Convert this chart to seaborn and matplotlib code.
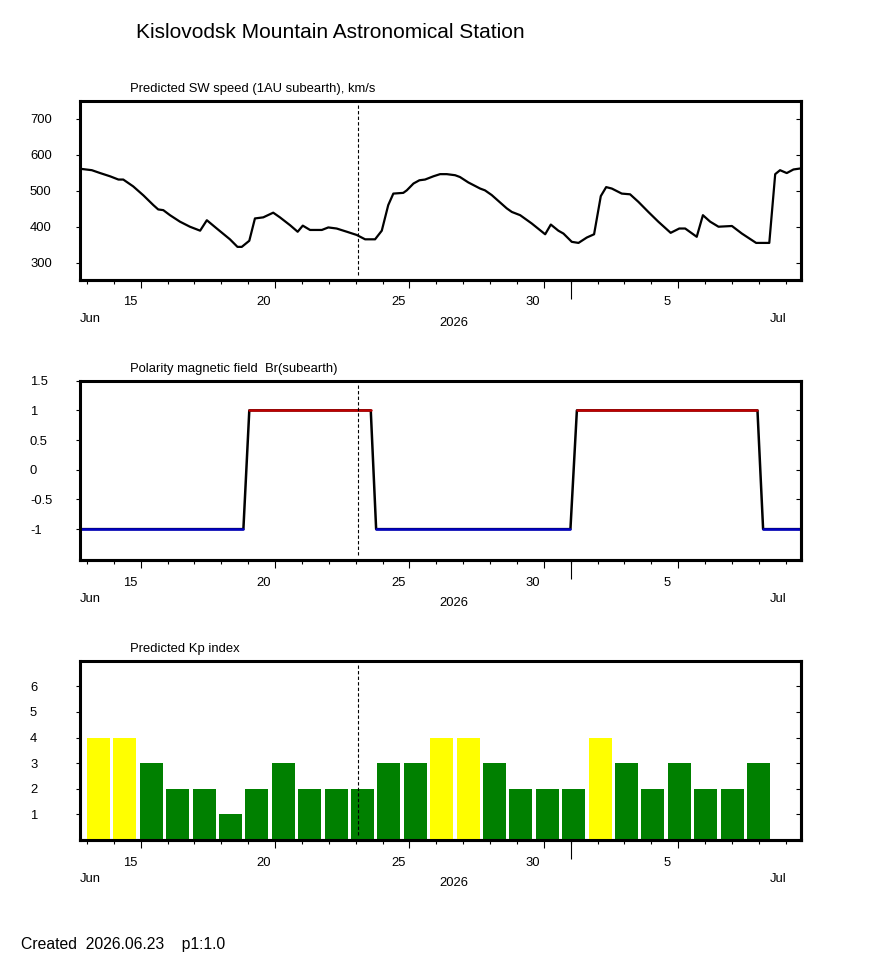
import seaborn as sns
import matplotlib.pyplot as plt
import matplotlib.transforms as mtransforms
import numpy as np

sns.set_theme(style="ticks", rc={"text.color": "black", "axes.labelcolor": "black",
                                 "xtick.color": "black", "ytick.color": "black",
                                 "axes.edgecolor": "black"})
plt.rcParams["font.family"] = ["Liberation Sans", "DejaVu Sans"]
plt.rcParams["axes.unicode_minus"] = False

# days are counted from 1 June 2026 00:00 = day 1 (so 1 July = day 31)
x_range = (12.74, 39.57)
now_day = 23.09

# solar wind speed
sw_days = [12.74, 13.18, 13.49, 13.86, 14.17, 14.35, 14.72, 15.10, 15.47, 15.65,
           15.84, 16.09, 16.46, 16.83, 17.21, 17.46, 17.83, 18.32, 18.60, 18.76,
           19.04, 19.25, 19.56, 19.93, 20.18, 20.56, 20.84, 21.03, 21.30, 21.74,
           21.98, 22.29, 22.67, 23.04, 23.35, 23.72, 23.97, 24.21, 24.40, 24.77,
           24.90, 25.15, 25.37, 25.58, 25.89, 26.14, 26.39, 26.70, 26.88, 27.19,
           27.63, 27.81, 28.06, 28.62, 28.81, 29.12, 29.55, 30.05, 30.26, 30.54,
           30.73, 31.04, 31.29, 31.60, 31.87, 32.12, 32.32, 32.53, 32.90, 33.21,
           33.52, 33.89, 34.26, 34.72, 35.04, 35.26, 35.69, 35.92, 36.19, 36.50,
           37.00, 37.37, 37.90, 38.39, 38.61, 38.79, 39.04, 39.29, 39.57]
sw_speed = [561, 557, 549, 540, 531, 531, 512, 487, 460, 448,
            446, 432, 414, 400, 389, 418, 395, 365, 344, 344,
            361, 423, 426, 439, 426, 404, 386, 403, 391, 391,
            398, 395, 386, 377, 365, 365, 389, 460, 492, 494,
            501, 520, 529, 531, 540, 546, 546, 543, 538, 523,
            506, 501, 488, 451, 441, 432, 409, 379, 406, 389,
            381, 358, 355, 370, 379, 485, 510, 506, 492, 490,
            469, 441, 414, 383, 395, 395, 372, 432, 414, 400,
            402, 381, 355, 355, 546, 557, 549, 559, 562]

# polarity of Br
pol_days = [12.74, 18.82, 19.04, 23.56, 23.76, 30.99, 31.23, 37.95, 38.16, 39.57]
pol_vals = [-1, -1, 1, 1, -1, -1, 1, 1, -1, -1]

# predicted Kp, one bar per (slightly shorter than a) day
kp_first = 13.0
kp_step = 0.9824
kp_values = [4, 4, 3, 2, 2, 1, 2, 3, 2, 2, 2, 3, 3, 4, 4, 3, 2, 2, 2, 4, 3, 2, 3, 2, 2, 3]

major_days = [15, 20, 25, 30, 35]
major_labels = ["15", "20", "25", "30", "5"]
month_day = 31

fig = plt.figure(figsize=(8.7, 9.65), dpi=100)
W, H = 870, 965
FS = 9.4


def make_axes(top_px):
    return fig.add_axes([80 / W, 1 - (top_px + 179.3) / H, 721 / W, 179.3 / H])


def style_axes(ax, title, yticks, ylim):
    ax.set_xlim(*x_range)
    ax.set_ylim(*ylim)
    for sp in ax.spines.values():
        sp.set_linewidth(2.2)
        sp.set_color("black")
    ax.set_facecolor("white")
    ax.set_xticks(major_days)
    ax.set_xticks(np.arange(13, 40), minor=True)
    ax.tick_params(axis="x", which="major", direction="out", length=6, width=0.8,
                   color="black", labelbottom=False)
    ax.tick_params(axis="x", which="minor", direction="out", length=3, width=0.8,
                   color="black")
    ax.set_yticks(yticks)
    ax.set_yticklabels(["%g" % t for t in yticks])
    ax.tick_params(axis="y", direction="out", length=3, width=0.8, color="black",
                   pad=33, labelsize=FS, labelcolor="black")
    plt.setp(ax.get_yticklabels(), ha="left")
    ax.set_xlabel("")
    ax.set_ylabel("")

    right = ax.secondary_yaxis("right")
    right.set_yticks([t for t in yticks if t < ylim[1]])
    right.tick_params(direction="in", length=3.5, width=0.8, color="black", labelright=False)
    right.spines["right"].set_linewidth(2.2)

    month = ax.secondary_xaxis("bottom")
    month.set_xticks([month_day])
    month.tick_params(direction="out", length=14, width=0.8, color="black", labelbottom=False)
    month.spines["bottom"].set_linewidth(2.2)

    trans = mtransforms.blended_transform_factory(ax.transData, ax.transAxes)
    for d, lab in zip(major_days, major_labels):
        off = mtransforms.ScaledTranslation(-11 / 100, -22.5 / 100, fig.dpi_scale_trans)
        ax.text(d, 0, lab, transform=trans + off, ha="center", va="center", fontsize=FS)
    base = mtransforms.blended_transform_factory(fig.transFigure, ax.transAxes)
    ax.text(80 / W, 0, "Jun", transform=base + mtransforms.ScaledTranslation(0, -39 / 100, fig.dpi_scale_trans),
            ha="left", va="center", fontsize=FS)
    ax.text(454 / W, 0, "2026", transform=base + mtransforms.ScaledTranslation(0, -43.5 / 100, fig.dpi_scale_trans),
            ha="center", va="center", fontsize=FS)
    ax.text(778 / W, 0, "Jul", transform=base + mtransforms.ScaledTranslation(0, -39 / 100, fig.dpi_scale_trans),
            ha="center", va="center", fontsize=FS)

    ax.text((130 - 80) / 721, 1 + 11.7 / 179.3, title, transform=ax.transAxes,
            ha="left", va="center", fontsize=FS)
    ax.axvline(now_day, ymin=0.03, ymax=0.985, color="black", lw=0.8, ls=(0, (3, 2)), zorder=5)


# panel 1: solar wind speed
ax1 = make_axes(100.7)
sns.lineplot(x=sw_days, y=sw_speed, ax=ax1, color="black", lw=1.6, sort=False, estimator=None)
style_axes(ax1, "Predicted SW speed (1AU subearth), km/s", [300, 400, 500, 600, 700], (252, 750))

# panel 2: polarity
ax2 = make_axes(380.7)
sns.lineplot(x=pol_days, y=pol_vals, ax=ax2, color="black", lw=1.8, sort=False, estimator=None)
for i in range(len(pol_days) - 1):
    if pol_vals[i] == pol_vals[i + 1]:
        c = "#0000c8" if pol_vals[i] < 0 else "#c00000"
        sns.lineplot(x=pol_days[i:i + 2], y=pol_vals[i:i + 2], ax=ax2, color=c, lw=1.8,
                     sort=False, estimator=None)
style_axes(ax2, "Polarity magnetic field  Br(subearth)", [-1, -0.5, 0, 0.5, 1, 1.5], (-1.52, 1.5))

# panel 3: Kp
ax3 = make_axes(660.7)
kp_left = [kp_first + kp_step * i for i in range(len(kp_values))]
kp_colors = ["#ffff00" if v >= 4 else "#008000" for v in kp_values]
ax3.bar(kp_left, kp_values, width=0.86, align="edge", color=kp_colors, edgecolor="none")
style_axes(ax3, "Predicted Kp index", [1, 2, 3, 4, 5, 6], (0, 7))

fig.text(136 / W, 1 - 32 / H, "Kislovodsk Mountain Astronomical Station",
         ha="left", va="center", fontsize=15)
fig.text(21 / W, 1 - 944 / H, "Created  2026.06.23    p1:1.0",
         ha="left", va="center", fontsize=11.3)

fig.savefig("out.png", dpi=100, facecolor="white")
